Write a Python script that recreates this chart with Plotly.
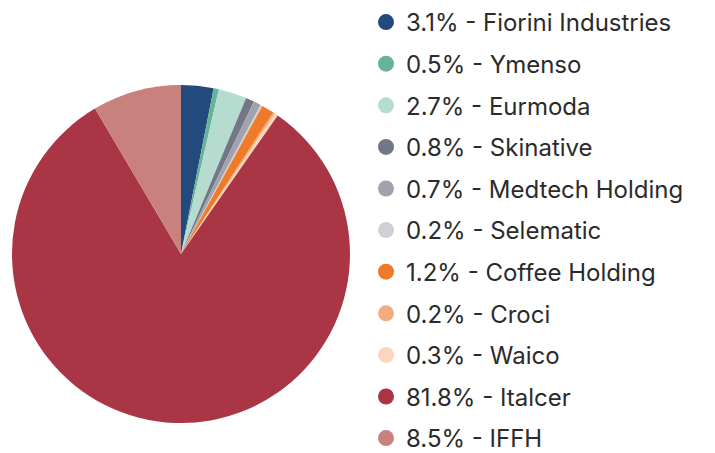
import plotly.graph_objects as go

names = ["Fiorini Industries", "Ymenso", "Eurmoda", "Skinative", "Medtech Holding",
         "Selematic", "Coffee Holding", "Croci", "Waico", "Italcer", "IFFH"]
values = [3.1, 0.5, 2.7, 0.8, 0.7, 0.2, 1.2, 0.2, 0.3, 81.8, 8.5]
colors = ["#234a7c", "#66b39a", "#b5dccf", "#717785", "#a0a3ad", "#cfd0d6",
          "#ee7a2a", "#f2ad7c", "#fbd6bd", "#a93545", "#c8817c"]

fig = go.Figure()
fig.add_trace(go.Pie(
    labels=names, values=values, sort=False, direction="clockwise", rotation=0,
    marker=dict(colors=colors, line=dict(width=0)),
    textinfo="none", hoverinfo="label+percent", showlegend=False,
    domain=dict(x=[4/715, 342/715], y=[38/453, 376/453]),
))
for n, v, c in zip(names, values, colors):
    fig.add_trace(go.Scatter(
        x=[None], y=[None], mode="markers", name=f"{v}% - {n}", legendgroup=n,
        marker=dict(symbol="circle", size=20, color=c), showlegend=True,
    ))

fig.update_layout(
    width=715, height=453, margin=dict(l=0, r=0, t=0, b=0, autoexpand=False),
    paper_bgcolor="white", plot_bgcolor="white",
    xaxis=dict(visible=False), yaxis=dict(visible=False),
    font=dict(family="Inter, Open Sans, sans-serif", size=24, color="#2b2b2b"),
    legend=dict(x=358/715, y=1.0177, xanchor="left", yanchor="top",
                traceorder="grouped", tracegroupgap=7.4, itemsizing="trace",
                maxheight=700, font=dict(size=24), bgcolor="rgba(0,0,0,0)"),
)
fig.write_html("out.html")
